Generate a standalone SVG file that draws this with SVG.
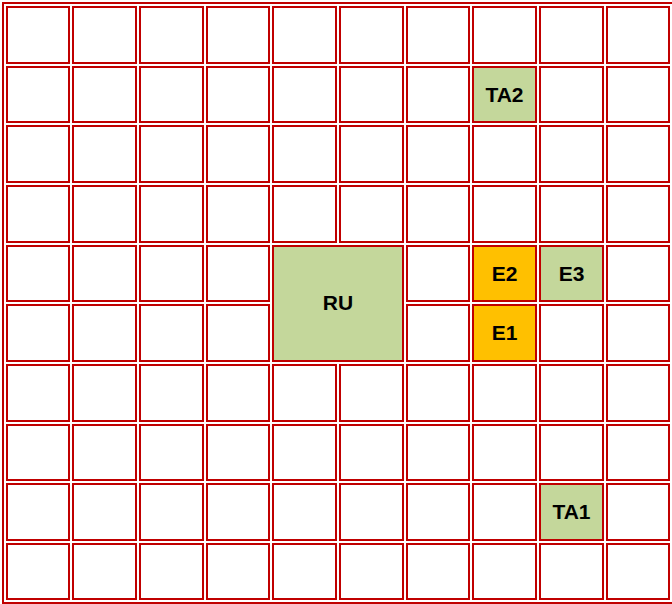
<svg xmlns="http://www.w3.org/2000/svg" xmlns:xlink="http://www.w3.org/1999/xlink" width="672" height="604" viewBox="0 0 672 604">
  <style>
    .cell { fill: #ffffff; stroke: #c00000; stroke-width: 2; }
    .green { fill: #c4d79b; stroke: #c00000; stroke-width: 2; }
    .orange { fill: #ffc000; stroke: #c00000; stroke-width: 2; }
    .lbl { font-family: "Liberation Sans", Arial, sans-serif; font-weight: bold; font-size: 21px; fill: #000000; text-anchor: middle; dominant-baseline: central; }
  </style>
  <defs>
    <g id="row56">
      <rect class="cell" x="7" y="0" width="62" height="56"/>
      <rect class="cell" x="73" y="0" width="63" height="56"/>
      <rect class="cell" x="140" y="0" width="63" height="56"/>
      <rect class="cell" x="207" y="0" width="62" height="56"/>
      <rect class="cell" x="273" y="0" width="63" height="56"/>
      <rect class="cell" x="340" y="0" width="63" height="56"/>
      <rect class="cell" x="407" y="0" width="62" height="56"/>
      <rect class="cell" x="473" y="0" width="63" height="56"/>
      <rect class="cell" x="540" y="0" width="63" height="56"/>
      <rect class="cell" x="607" y="0" width="62" height="56"/>
    </g>
    <g id="row55">
      <rect class="cell" x="7" y="0" width="62" height="55"/>
      <rect class="cell" x="73" y="0" width="63" height="55"/>
      <rect class="cell" x="140" y="0" width="63" height="55"/>
      <rect class="cell" x="207" y="0" width="62" height="55"/>
      <rect class="cell" x="273" y="0" width="63" height="55"/>
      <rect class="cell" x="340" y="0" width="63" height="55"/>
      <rect class="cell" x="407" y="0" width="62" height="55"/>
      <rect class="cell" x="473" y="0" width="63" height="55"/>
      <rect class="cell" x="540" y="0" width="63" height="55"/>
      <rect class="cell" x="607" y="0" width="62" height="55"/>
    </g>
  </defs>
  <rect x="0" y="0" width="672" height="604" fill="#ffffff"/>
  <g id="grid">
    <rect x="3" y="3" width="670" height="600" fill="none" stroke="#c00000" stroke-width="2"/>
    <use xlink:href="#row56" href="#row56" y="7"/>
    <use xlink:href="#row55" href="#row55" y="67"/>
    <use xlink:href="#row56" href="#row56" y="126"/>
    <use xlink:href="#row56" href="#row56" y="186"/>
    <use xlink:href="#row55" href="#row55" y="246"/>
    <use xlink:href="#row56" href="#row56" y="305"/>
    <use xlink:href="#row56" href="#row56" y="365"/>
    <use xlink:href="#row55" href="#row55" y="425"/>
    <use xlink:href="#row56" href="#row56" y="484"/>
    <use xlink:href="#row55" href="#row55" y="544"/>
  </g>
  <g id="RU">
    <rect class="green" x="273" y="246" width="130" height="115"/>
    <text class="lbl" x="338" y="302">RU</text>
  </g>
  <g id="TA2">
    <rect class="green" x="473" y="67" width="63" height="55"/>
    <text class="lbl" x="504.5" y="94">TA2</text>
  </g>
  <g id="E2">
    <rect class="orange" x="473" y="246" width="63" height="55"/>
    <text class="lbl" x="504.5" y="273">E2</text>
  </g>
  <g id="E3">
    <rect class="green" x="540" y="246" width="63" height="55"/>
    <text class="lbl" x="571.5" y="273">E3</text>
  </g>
  <g id="E1">
    <rect class="orange" x="473" y="305" width="63" height="56"/>
    <text class="lbl" x="504.5" y="332">E1</text>
  </g>
  <g id="TA1">
    <rect class="green" x="540" y="484" width="63" height="56"/>
    <text class="lbl" x="571.5" y="511">TA1</text>
  </g>
</svg>
